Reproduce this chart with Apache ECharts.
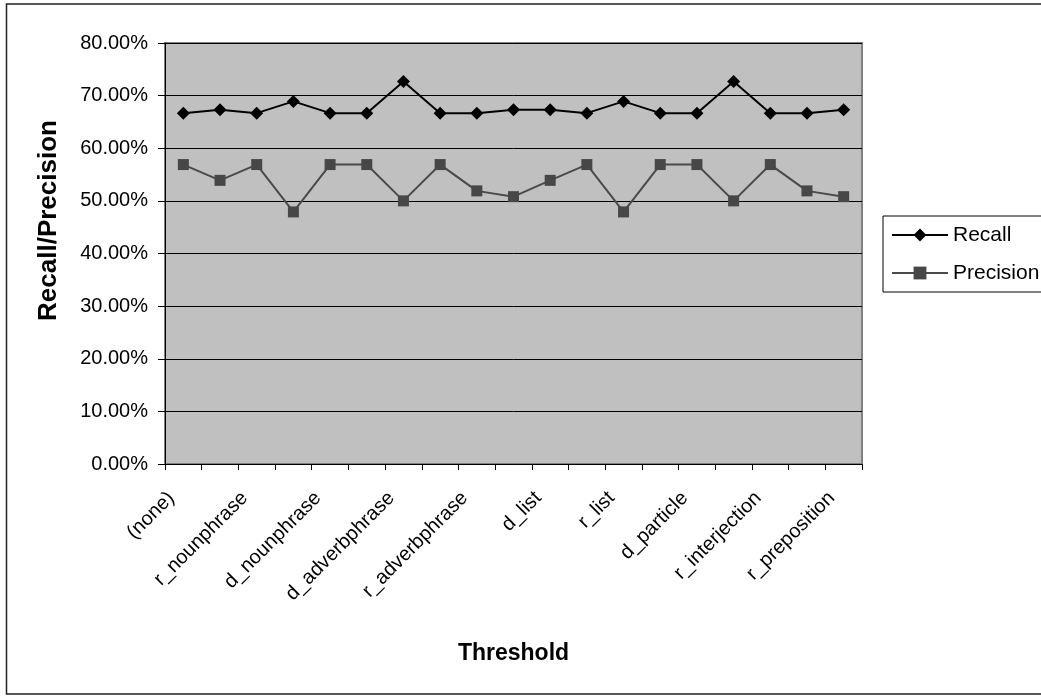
<!DOCTYPE html>
<html>
<head>
<meta charset="utf-8">
<script src="https://cdn.jsdelivr.net/npm/echarts@6/dist/echarts.min.js"></script>
<style>
html,body{margin:0;padding:0;background:#fff;}
#chart{width:1041px;height:698px;}
</style>
</head>
<body>
<div id="chart"></div>
<script>
// Categories (thresholds); only every other one is labelled in the picture
const categories = [
  '(none)', 'r_verbphrase', 'r_nounphrase', 'd_verbphrase', 'd_nounphrase',
  'd_adjphrase', 'd_adverbphrase', 'r_adjphrase', 'r_adverbphrase', 'd_conjunction',
  'd_list', 'r_conjunction', 'r_list', 'r_particle', 'd_particle',
  'd_interjection', 'r_interjection', 'd_preposition', 'r_preposition'
];
// Values in percent
const recall = [66.67, 67.3, 66.67, 68.9, 66.67, 66.67, 72.7, 66.67, 66.67, 67.3,
                67.3, 66.67, 68.9, 66.67, 66.67, 72.7, 66.67, 66.67, 67.3];
const precision = [56.9, 53.9, 56.9, 47.9, 56.9, 56.9, 50.0, 56.9, 51.9, 50.8,
                   53.9, 56.9, 47.9, 56.9, 56.9, 50.0, 56.9, 51.9, 50.8];
const yTicks = { min: 0, max: 80, interval: 10 };

const FONT = '"Liberation Sans", Arial, sans-serif';
const chart = echarts.init(document.getElementById('chart'), null, { renderer: 'canvas' });
chart.setOption({
  animation: false,
  backgroundColor: '#ffffff',
  textStyle: { fontFamily: FONT, color: '#000' },
  graphic: [{
    type: 'rect', silent: true, z: -10,
    shape: { x: 6.5, y: 4, width: 1100, height: 690 },
    style: { fill: 'none', stroke: '#222', lineWidth: 1.5 }
  }],
  grid: {
    left: 165, right: 179, top: 43, bottom: 234,
    show: true, backgroundColor: '#C0C0C0', borderColor: '#808080', borderWidth: 2
  },
  legend: {
    orient: 'vertical',
    left: 883, top: 216,
    padding: [7, 60, 7, 8],
    itemWidth: 56, itemHeight: 16, itemGap: 14,
    borderColor: '#000', borderWidth: 1,
    backgroundColor: '#fff',
    textStyle: { fontFamily: FONT, fontSize: 21, color: '#000', lineHeight: 24 },
    data: ['Recall', 'Precision']
  },
  xAxis: {
    type: 'category',
    data: categories,
    boundaryGap: true,
    name: 'Threshold',
    nameLocation: 'middle',
    nameGap: 178,
    nameTextStyle: { fontFamily: FONT, fontSize: 23, fontWeight: 'bold', color: '#000' },
    axisLine: { show: true, lineStyle: { color: '#000', width: 1 } },
    axisTick: { show: true, interval: 0, length: 6, lineStyle: { color: '#000' } },
    axisLabel: {
      interval: 1, rotate: 45, margin: 19, padding: [0, 17, 0, 0],
      fontFamily: FONT, fontSize: 20, color: '#000'
    },
    splitLine: { show: false }
  },
  yAxis: {
    type: 'value',
    min: yTicks.min, max: yTicks.max, interval: yTicks.interval,
    name: 'Recall/Precision',
    nameLocation: 'middle',
    nameRotate: 90,
    nameGap: 103,
    nameTextStyle: { fontFamily: FONT, fontSize: 26, fontWeight: 'bold', color: '#000', padding: [0, 0, 0, 66] },
    axisLine: { show: true, lineStyle: { color: '#000', width: 1 } },
    axisTick: { show: true, inside: false, length: 7, lineStyle: { color: '#000' } },
    axisLabel: {
      margin: 17, fontFamily: FONT, fontSize: 20, color: '#000',
      formatter: v => v.toFixed(2) + '%'
    },
    splitLine: { show: true, lineStyle: { color: '#000', width: 1 } }
  },
  series: [
    {
      name: 'Recall', type: 'line', data: recall,
      symbol: 'diamond', symbolSize: 13,
      lineStyle: { color: '#000', width: 2 },
      itemStyle: { color: '#000' }
    },
    {
      name: 'Precision', type: 'line', data: precision,
      symbol: 'rect', symbolSize: 11,
      lineStyle: { color: '#4a4a4a', width: 2 },
      itemStyle: { color: '#474747' }
    }
  ]
});
</script>
</body>
</html>
